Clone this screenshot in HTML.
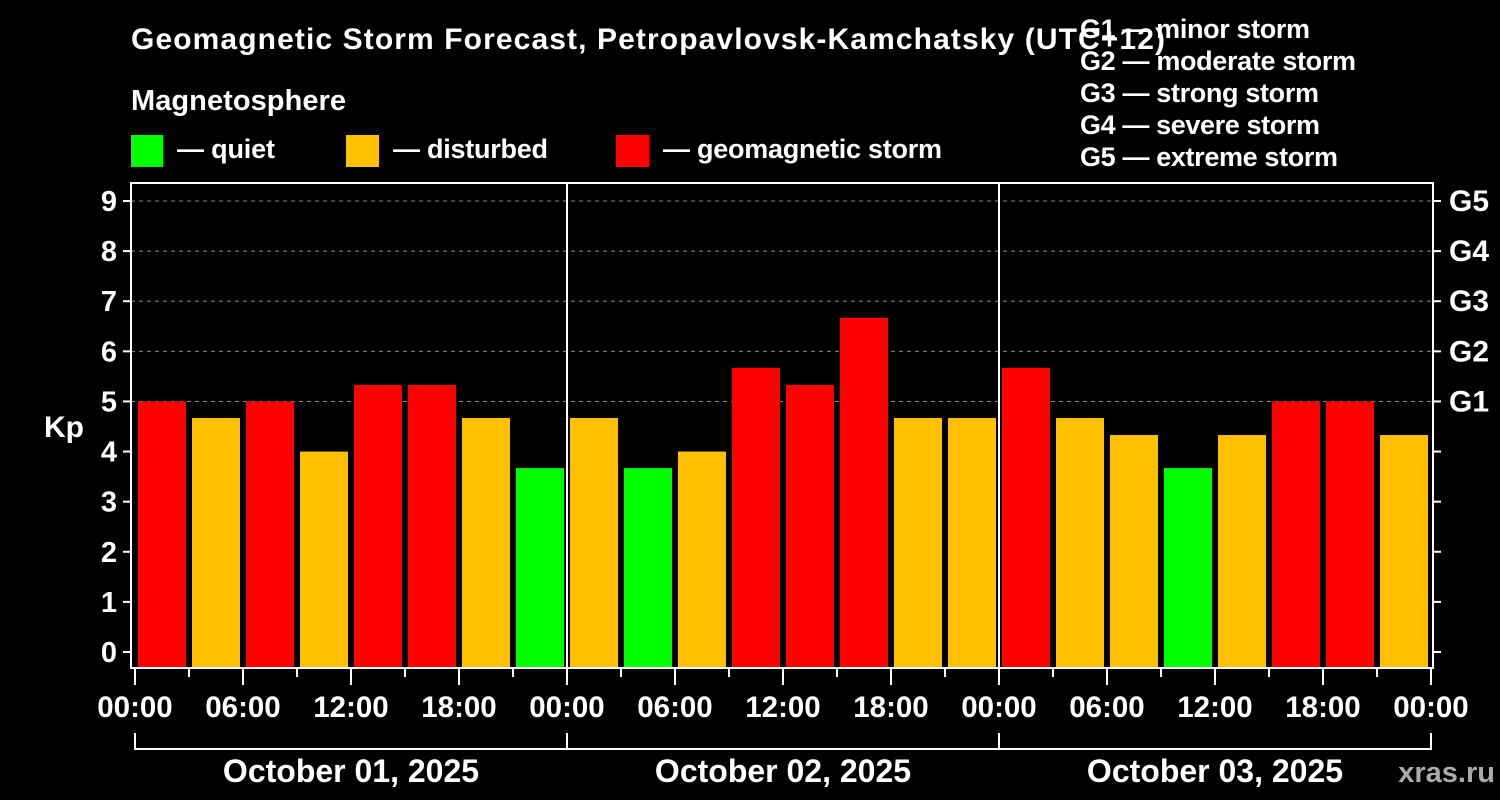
<!DOCTYPE html>
<html><head><meta charset="utf-8"><style>
html,body{margin:0;padding:0;background:#000;}
svg{display:block;font-family:"Liberation Sans",Arial,sans-serif;font-weight:bold;}
</style></head><body>
<svg id="chart" width="1500" height="800" viewBox="0 0 1500 800" xmlns="http://www.w3.org/2000/svg">
<rect width="1500" height="800" fill="#000"/>
<text x="131" y="49" font-size="30" fill="#fff" textLength="1034">Geomagnetic Storm Forecast, Petropavlovsk-Kamchatsky (UTC+12)</text>
<text x="131" y="110" font-size="29" fill="#fff" textLength="215">Magnetosphere</text>
<g><rect x="131" y="135" width="32" height="32" fill="#00ff00"/><text x="177" y="158" font-size="27" fill="#fff" textLength="98">— quiet</text></g>
<g><rect x="346" y="135" width="33" height="32" fill="#ffc000"/><text x="393" y="158" font-size="27" fill="#fff" textLength="155">— disturbed</text></g>
<g><rect x="616" y="135" width="33" height="32" fill="#ff0000"/><text x="663" y="158" font-size="27" fill="#fff" textLength="279">— geomagnetic storm</text></g>
<g font-size="27" fill="#fff">
<text x="1080" y="38" textLength="230">G1 — minor storm</text>
<text x="1080" y="70" textLength="276">G2 — moderate storm</text>
<text x="1080" y="102" textLength="239">G3 — strong storm</text>
<text x="1080" y="134" textLength="240">G4 — severe storm</text>
<text x="1080" y="166" textLength="258">G5 — extreme storm</text>
</g>
<g id="grid"></g>
<g id="bars"></g>
<g id="axes"></g>
<text x="64" y="437" font-size="30" fill="#fff" text-anchor="middle">Kp</text>
<text x="1495" y="782" font-size="29" fill="#aaa" text-anchor="end">xras.ru</text>
</svg>
<script>
const kpValues = [5, 4.67, 5, 4, 5.33, 5.33, 4.67, 3.67, 4.67, 3.67, 4, 5.67, 5.33, 6.67, 4.67, 4.67, 5.67, 4.67, 4.33, 3.67, 4.33, 5, 5, 4.33];
const dayLabels = ["October 01, 2025", "October 02, 2025", "October 03, 2025"];
const hourLabels = ["00:00", "06:00", "12:00", "18:00"];
const yTicks = [0,1,2,3,4,5,6,7,8,9];
const gLabels = ["G1","G2","G3","G4","G5"];

const NS = "http://www.w3.org/2000/svg";
const L = 131, R = 1433, T = 183, B = 668;
const X0 = 135, DAYW = 432;
const nBars = kpValues.length;
const barSlot = DAYW * dayLabels.length / nBars;
const y = v => 652 - v * (652 - 201) / 9;
const x = h => X0 + h * DAYW / 24;
function mk(tag, attrs, parent) { const e = document.createElementNS(NS, tag); for (const k in attrs) e.setAttribute(k, attrs[k]); parent.appendChild(e); return e; }
const grid = document.getElementById('grid'), bars = document.getElementById('bars'), axes = document.getElementById('axes');

yTicks.forEach(v => {
  if (v >= 5) {
    const g = mk('line', {x1: L, x2: R, y1: y(v), y2: y(v), stroke: '#888', 'stroke-width': 1, 'stroke-dasharray': '4,4'}, grid);
    
    
  }
  mk('line', {x1: L - 8, x2: L, y1: y(v), y2: y(v), stroke: '#fff', 'stroke-width': 2}, axes);
  mk('line', {x1: R, x2: R + 8, y1: y(v), y2: y(v), stroke: '#fff', 'stroke-width': 2}, axes);
  const t = mk('text', {x: L - 14, y: y(v) + 10, 'font-size': 29, fill: '#fff', 'text-anchor': 'end'}, axes);
  t.textContent = v;
  
  
});
gLabels.forEach((g, i) => {
  const t = mk('text', {x: R + 16, y: y(5 + i) + 10, 'font-size': 30, fill: '#fff'}, axes);
  t.textContent = g;
  
  
});

kpValues.forEach((v, i) => {
  const col = v >= 5 ? '#ff0000' : (v >= 4 ? '#ffc000' : '#00ff00');
  const r = mk('rect', {x: X0 + i * barSlot + 3, y: y(v), width: barSlot - 6, height: B - y(v), fill: col}, bars);
  
  
});

const fr = mk('rect', {x: L, y: T, width: R - L, height: B - T, fill: 'none', stroke: '#fff', 'stroke-width': 2}, axes);


for (let d = 1; d < dayLabels.length; d++) {
  mk('line', {x1: x(24 * d), x2: x(24 * d), y1: T, y2: B, stroke: '#fff', 'stroke-width': 2}, axes);
}
for (let h = 0; h <= 24 * dayLabels.length; h += 3) {
  const major = h % 6 === 0;
  mk('line', {x1: x(h), x2: x(h), y1: B, y2: B + (major ? 17 : 9), stroke: '#fff', 'stroke-width': 2}, axes);
  if (major) {
    const lbl = h === 24 * dayLabels.length ? hourLabels[0] : hourLabels[(h / 6) % 4];
    const t = mk('text', {x: x(h), y: 717, 'font-size': 29.5, fill: '#fff', 'text-anchor': 'middle'}, axes);
    t.textContent = lbl;
    
    
  }
}
mk('line', {x1: x(0), x2: x(24 * dayLabels.length), y1: 749, y2: 749, stroke: '#fff', 'stroke-width': 2}, axes);
for (let d = 0; d <= dayLabels.length; d++) {
  mk('line', {x1: x(24 * d), x2: x(24 * d), y1: 733, y2: 750, stroke: '#fff', 'stroke-width': 2}, axes);
}
dayLabels.forEach((dl, d) => {
  const t = mk('text', {x: x(24 * d + 12), y: 782, 'font-size': 32, fill: '#fff', 'text-anchor': 'middle'}, axes);
  t.textContent = dl;
  
  
});
</script>
</body></html>
